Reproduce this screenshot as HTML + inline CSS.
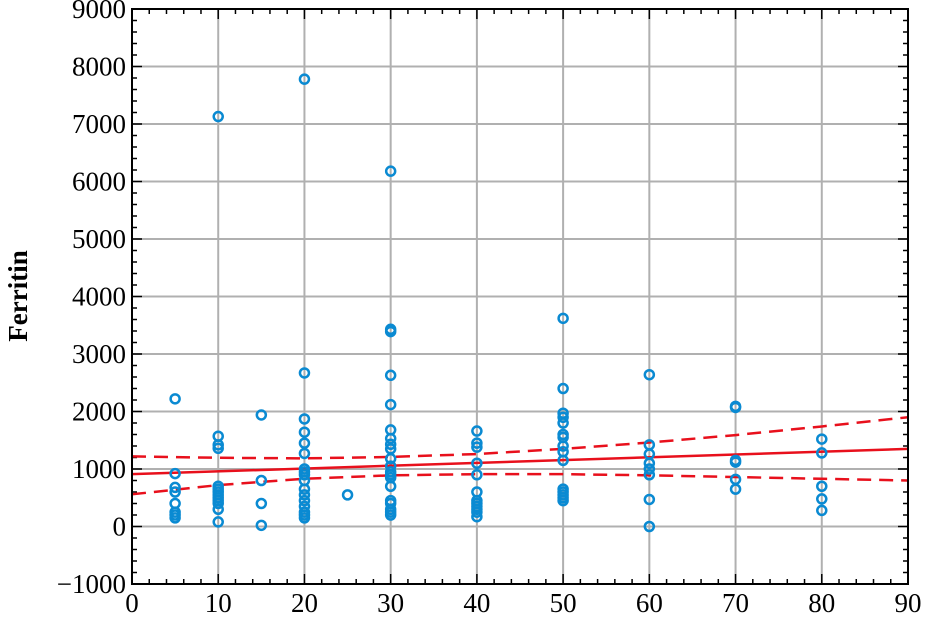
<!DOCTYPE html>
<html><head><meta charset="utf-8"><style>
html,body{margin:0;padding:0;background:#fff;}
svg{display:block;}
text{font-family:"Liberation Serif",serif;font-size:27px;fill:#000;}
</style></head><body>
<svg id="chart" width="926" height="619" xmlns="http://www.w3.org/2000/svg"></svg>
<script>
const xTicks=[0,10,20,30,40,50,60,70,80,90];
const yTicks=[-1000,0,1000,2000,3000,4000,5000,6000,7000,8000,9000];
const pointX=[5,5,5,5,5,5,5,5,
10,10,10,10,10,10,10,10,10,10,10,10,10,
15,15,15,15,
20,20,20,20,20,20,20,20,20,20,20,20,20,20,20,20,20,
25,
30,30,30,30,30,30,30,30,30,30,30,30,30,30,30,30,30,30,30,30,
40,40,40,40,40,40,40,40,40,40,40,40,
50,50,50,50,50,50,50,50,50,50,50,50,50,50,50,
60,60,60,60,60,60,60,60,
70,70,70,70,70,70,
80,80,80,80,80];
const pointY=[2220,920,680,600,400,250,200,150,
7130,1570,1420,1360,700,650,600,550,500,450,400,300,80,
1940,800,400,20,
7780,2670,1870,1640,1450,1270,1000,950,900,800,650,550,450,350,250,200,150,
550,
6180,3430,3390,2630,2120,1680,1530,1430,1350,1180,1050,950,900,850,700,450,400,300,250,200,
1660,1450,1380,1100,900,600,450,400,350,300,250,170,
3620,2400,1970,1900,1800,1600,1550,1400,1300,1150,650,600,550,500,450,
2640,1420,1260,1100,1000,900,470,0,
2090,2070,1150,1120,820,650,
1520,1280,700,480,280];
const fitX=[0,90];
const fitY=[910,1350];
const ciX=[0,10,20,30,40,50,60,70,80,90];
const ciUpper=[1220,1195,1185,1210,1260,1350,1460,1590,1740,1900];
const ciLower=[560,720,830,890,910,910,890,860,830,800];

const NS="http://www.w3.org/2000/svg";
const svg=document.getElementById('chart');
const L=132,R=908,T=9,B=584;
const xMin=0,xMax=90,yMin=-1000,yMax=9000;
const sx=v=>L+(v-xMin)/(xMax-xMin)*(R-L);
const sy=v=>B-(v-yMin)/(yMax-yMin)*(B-T);
function mk(tag,attrs){const e=document.createElementNS(NS,tag);for(const k in attrs)e.setAttribute(k,attrs[k]);svg.appendChild(e);return e;}

xTicks.forEach(t=>{
  const g=mk('line',{x1:sx(t),x2:sx(t),y1:T,y2:B,stroke:'#b0b0b0','stroke-width':2});
  
  
});
yTicks.forEach(t=>{
  const g=mk('line',{x1:L,x2:R,y1:sy(t),y2:sy(t),stroke:'#b0b0b0','stroke-width':2});
  
  
});
for(let v=0;v<=90;v+=2){const big=v%10===0;const len=big?10:5;
  ['b','t'].forEach(s=>{const y0=s==='b'?B:T;const d=s==='b'?-len:len;
    const e=mk('line',{x1:sx(v),x2:sx(v),y1:y0,y2:y0+d,stroke:'#000','stroke-width':1.5});
    
    });}
for(let v=-1000;v<=9000;v+=200){const big=v%1000===0;const len=big?10:5;
  ['l','r'].forEach(s=>{const x0=s==='l'?L:R;const d=s==='l'?len:-len;
    const e=mk('line',{x1:x0,x2:x0+d,y1:sy(v),y2:sy(v),stroke:'#000','stroke-width':1.5});
    
    });}

function pathOf(xs,ys){return xs.map((x,i)=>(i?'L':'M')+sx(x)+','+sy(ys[i])).join(' ');}
const cu=mk('path',{d:pathOf(ciX,ciUpper),fill:'none',stroke:'#e8101c','stroke-width':2.5,'stroke-dasharray':'14,8'});


const cl=mk('path',{d:pathOf(ciX,ciLower),fill:'none',stroke:'#e8101c','stroke-width':2.5,'stroke-dasharray':'14,8'});


const fl=mk('path',{d:pathOf(fitX,fitY),fill:'none',stroke:'#e8101c','stroke-width':2.5});



pointX.forEach((x,i)=>{
  const c=mk('circle',{cx:sx(x),cy:sy(pointY[i]),r:4.5,fill:'none',stroke:'#0a8ad2','stroke-width':2.5});
  
  
});

const fr=mk('rect',{x:L,y:T,width:R-L,height:B-T,fill:'none',stroke:'#000','stroke-width':2});



xTicks.forEach(t=>{
  const e=mk('text',{x:sx(t),y:B+28,'text-anchor':'middle'});e.textContent=t;
  
  
});
yTicks.forEach(t=>{
  const e=mk('text',{x:L-6,y:sy(t)+9,'text-anchor':'end'});e.textContent=t<0?'\u2212'+(-t):t;
  
  
});
const yl=mk('text',{x:0,y:0,transform:'translate(27,296) rotate(-90)','text-anchor':'middle','font-weight':'bold','font-size':'28px'});
yl.textContent='Ferritin';


</script>
</body></html>
